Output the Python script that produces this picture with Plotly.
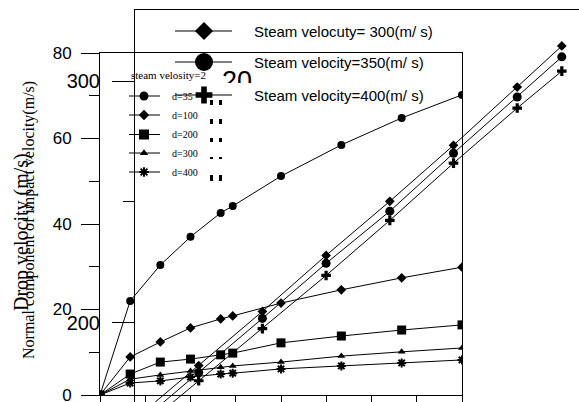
import plotly.graph_objects as go

W, H = 579, 402

# ---------------- data: chart 1 (normal component of impact velocity) ----------------
d_x = [0, 5, 10, 15, 20, 22, 30, 40, 50, 60]
d35 = [0, 22.0, 30.4, 37.0, 42.6, 44.2, 51.2, 58.5, 64.8, 70.2]
d100 = [0, 8.9, 12.4, 15.7, 17.8, 18.5, 21.5, 24.6, 27.4, 29.9]
d200 = [0, 4.9, 7.7, 8.4, 9.4, 9.8, 12.2, 13.8, 15.2, 16.4]
d300 = [0, 3.7, 4.7, 5.6, 6.5, 6.8, 7.7, 9.1, 10.1, 11.0]
d400 = [0, 2.8, 3.3, 4.2, 4.9, 5.1, 6.1, 6.8, 7.5, 8.2]
d_names = ["d=35", "d=100", "d=200", "d=300", "d=400"]
legend1_title = "steam velosity=2"

# ---------------- data: chart 2 (drop velocity) ----------------
sv_x = [0, 1, 2, 3, 4, 5, 6, 6.7]
sv300 = [160.0, 182.2, 204.6, 227.8, 250.2, 273.4, 297.5, 314.5]
sv350 = [157.0, 179.3, 201.7, 224.5, 246.1, 270.1, 293.4, 310.0]
sv400 = [154.0, 175.9, 197.5, 219.5, 242.3, 266.0, 288.8, 304.1]
sv_names = ["Steam velocuty= 300(m/ s)", "Steam velocity=350(m/ s)", "Steam velocity=400(m/ s)"]

y1_title = "Normal component of impact velocity(m/s)"
y2_title = "Drop velocity (m/s)"
stray_label = "20"

SANS = "Liberation Sans, Arial, sans-serif"
SERIF = "Liberation Serif, Times New Roman, serif"
BLK = "black"

fig = go.Figure()

# chart 1 series
d_series = [d35, d100, d200, d300, d400]
d_sym = ["circle", "diamond", "square", "triangle-up", "asterisk"]
d_size = [8, 7.5, 9, 7, 7.5]
for ys, sym, sz in zip(d_series, d_sym, d_size):
    fig.add_trace(go.Scatter(
        x=d_x, y=ys, mode="lines+markers", xaxis="x", yaxis="y",
        line=dict(color=BLK, width=1),
        marker=dict(symbol=sym, size=sz, color=BLK,
                    line=dict(color=BLK, width=2 if sym == "asterisk" else 0)),
        showlegend=False, hoverinfo="skip"))

# chart 2 series
sv_series = [sv300, sv350, sv400]
sv_sym = ["diamond", "circle", "cross"]
sv_size = [7.5, 9, 8]
for ys, sym, sz in zip(sv_series, sv_sym, sv_size):
    fig.add_trace(go.Scatter(
        x=sv_x, y=ys, mode="lines+markers", xaxis="x2", yaxis="y2",
        line=dict(color=BLK, width=1),
        marker=dict(symbol=sym, size=sz, color=BLK, line=dict(width=0)),
        showlegend=False, hoverinfo="skip"))

# ---------------- legends drawn on a pixel overlay (x3/y3) ----------------
shapes = []
annotations = []

L1_ROWS = [96, 115, 134.5, 153, 172]
L1_LINE = (129, 160)
L1_MARK_X = 144
L1_TEXT_X = 170
L1_SIZES = [9, 8, 10, 7.5, 8]
for ry, sym, sz, name in zip(L1_ROWS, d_sym, L1_SIZES, d_names):
    shapes.append(dict(type="line", xref="x3", yref="y3", x0=L1_LINE[0], x1=L1_LINE[1],
                       y0=ry, y1=ry, line=dict(color=BLK, width=1), layer="above"))
    fig.add_trace(go.Scatter(
        x=[L1_MARK_X], y=[ry], mode="markers", xaxis="x3", yaxis="y3",
        marker=dict(symbol=sym, size=sz, color=BLK,
                    line=dict(color=BLK, width=2 if sym == "asterisk" else 0)),
        showlegend=False, hoverinfo="skip"))
    annotations.append(dict(xref="x3", yref="y3", x=L1_TEXT_X, y=ry, text=name,
                            xanchor="left", yanchor="middle", showarrow=False,
                            font=dict(family=SERIF, size=10, color=BLK)))
annotations.append(dict(xref="x3", yref="y3", x=129, y=75, text=legend1_title,
                        xanchor="left", yanchor="middle", showarrow=False,
                        font=dict(family=SERIF, size=11, color=BLK)))

# stray "20" partly hidden
fig.add_trace(go.Scatter(
    x=[237], y=[83], mode="text", text=[stray_label], xaxis="x3", yaxis="y3",
    textposition="middle center", textfont=dict(family=SANS, size=27, color=BLK),
    showlegend=False, hoverinfo="skip"))
shapes.append(dict(type="rect", xref="x3", yref="y3", x0=221, x1=258, y0=83, y1=93.5,
                   fillcolor="white", line=dict(width=0), layer="above"))

L2_ROWS = [31, 62, 95]
L2_LINE = (175, 232)
L2_MARK_X = 204
L2_TEXT_X = 252
L2_SIZES = [14, 18, 14]
for ry, sym, sz, name in zip(L2_ROWS, sv_sym, L2_SIZES, sv_names):
    shapes.append(dict(type="line", xref="x3", yref="y3", x0=L2_LINE[0], x1=L2_LINE[1],
                       y0=ry, y1=ry, line=dict(color=BLK, width=1), layer="above"))
    fig.add_trace(go.Scatter(
        x=[L2_MARK_X], y=[ry], mode="markers", xaxis="x3", yaxis="y3",
        marker=dict(symbol=sym, size=sz, color=BLK, line=dict(width=0)),
        showlegend=False, hoverinfo="skip"))
    annotations.append(dict(xref="x3", yref="y3", x=L2_TEXT_X, y=ry, text=name,
                            xanchor="left", yanchor="middle", showarrow=False,
                            font=dict(family=SANS, size=15, color=BLK)))

# small dash remnants
DASH_ROWS = [(100, 105), (119, 124), (138, 142), (157, 159), (175, 181)]
for y0, y1 in DASH_ROWS:
    for x0, x1 in [(210, 213), (219, 222)]:
        shapes.append(dict(type="rect", xref="x3", yref="y3", x0=x0, x1=x1, y0=y0, y1=y1,
                           fillcolor=BLK, line=dict(width=0), layer="above"))

# axis titles
annotations.append(dict(xref="x3", yref="y3", x=21, y=232, text=y2_title, textangle=-90,
                        xanchor="center", yanchor="middle", showarrow=False,
                        font=dict(family=SERIF, size=20, color=BLK)))
annotations.append(dict(xref="x3", yref="y3", x=29, y=220, text=y1_title, textangle=-90,
                        xanchor="center", yanchor="middle", showarrow=False,
                        font=dict(family=SERIF, size=16, color=BLK)))

fig.update_layout(
    width=W, height=H, margin=dict(l=0, r=0, t=0, b=0, pad=0, autoexpand=False),
    paper_bgcolor="white", plot_bgcolor="rgba(0,0,0,0)",
    showlegend=False,
    xaxis=dict(domain=[100 / W, 462 / W], range=[0, 60], tick0=0, dtick=7.5,
               ticks="outside", ticklen=7, tickcolor=BLK, showticklabels=False,
               showline=True, linecolor=BLK, linewidth=1, mirror=True, automargin=False,
               showgrid=False, zeroline=False, anchor="y"),
    yaxis=dict(domain=[7 / H, 349 / H], range=[0, 80], tick0=0, dtick=20,
               ticks="outside", ticklen=18, tickcolor=BLK, ticklabelstandoff=6,
               ticklabeloverflow="allow",
               minor=dict(ticks="outside", ticklen=10, dtick=10, tickcolor=BLK),
               tickfont=dict(family=SANS, size=17, color=BLK), automargin=False,
               showline=True, linecolor=BLK, linewidth=1, mirror=True,
               showgrid=False, zeroline=False, anchor="x"),
    xaxis2=dict(domain=[135 / W, 1], range=[0, 6.97], side="top", automargin=False,
                ticks="", showticklabels=False, showline=True, linecolor=BLK,
                showgrid=False, zeroline=False, anchor="y2"),
    yaxis2=dict(domain=[0, 392 / H], range=[167.1, 329.4], tick0=0, dtick=100,
                ticks="outside", ticklen=22, tickcolor=BLK, automargin=False,
                ticklabelstandoff=8, ticklabeloverflow="allow",
                minor=dict(ticks="outside", ticklen=11, dtick=50, tickcolor=BLK),
                tickfont=dict(family=SANS, size=20, color=BLK),
                showline=True, linecolor=BLK, linewidth=1,
                showgrid=False, zeroline=False, anchor="x2"),
    xaxis3=dict(domain=[0, 1], range=[0, W], visible=False, anchor="y3", fixedrange=True,
                automargin=False),
    yaxis3=dict(domain=[0, 1], range=[H, 0], visible=False, anchor="x3", fixedrange=True,
                automargin=False),
    shapes=shapes,
    annotations=annotations,
)

POST = (
    "document.documentElement.style.margin='0';"
    "document.documentElement.style.overflow='hidden';"
    "document.body.style.margin='0';document.body.style.padding='0';"
    "document.body.style.overflow='hidden';"
    "var gd=document.getElementById('{plot_id}');"
    "var p=gd.parentElement;p.style.position='absolute';p.style.left='0px';p.style.top='0px';"
    "p.style.margin='0';p.style.padding='0';"
)

fig.write_html("out.html", post_script=POST, config={"displayModeBar": False})
